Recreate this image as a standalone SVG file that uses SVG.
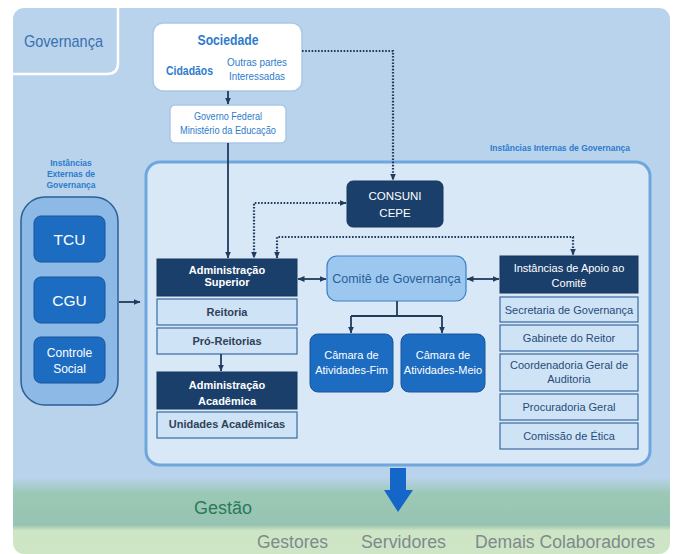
<svg xmlns="http://www.w3.org/2000/svg" width="673" height="554" viewBox="0 0 673 554">
<style>
text{font-family:"Liberation Sans",Arial,sans-serif}
.c{text-anchor:middle}
.navy{fill:#1b3f6b;stroke:#17375d;stroke-width:1}
.row{fill:#cfe3f7;stroke:#3a6aa0;stroke-width:1.2}
.lt{font-size:11px;font-weight:bold;fill:#2f4156}
.rt{font-size:11px;fill:#274b78}
.wb{fill:#ffffff;font-weight:bold;font-size:11px}
.w{fill:#ffffff}
.blue{fill:#1c6cc2;stroke:#1a5599;stroke-width:1}
.sol{fill:none;stroke:#1f3b5e;stroke-width:1.8}
.dot{fill:none;stroke:#1f3b5e;stroke-width:2.2;stroke-dasharray:1.6 1.6}
.lbl{font-weight:bold;font-size:8.5px;fill:#2d7ccc}
.bot{font-size:18px;fill:#7f8a8a}
</style>
<defs>
<linearGradient id="bg" gradientUnits="userSpaceOnUse" x1="0" y1="8" x2="0" y2="554">
<stop offset="0" stop-color="#b9d3ec"/>
<stop offset="0.86" stop-color="#b9d3ec"/>
<stop offset="0.888" stop-color="#9cc8b6"/>
<stop offset="0.947" stop-color="#97c4b2"/>
<stop offset="0.957" stop-color="#cde5c5"/>
<stop offset="1" stop-color="#cfe6c6"/>
</linearGradient>
<marker id="ar" viewBox="0 0 7 6" markerUnits="userSpaceOnUse" markerWidth="7" markerHeight="6" refX="6.5" refY="3" orient="auto-start-reverse">
<path d="M0,0 L7,3 L0,6 z" fill="#1f3b5e"/>
</marker>
</defs>

<g id="background">
<rect x="13" y="8" width="657" height="546" rx="11" fill="url(#bg)"/>
<path d="M13,74 H107 Q118,74 118,63 V8" fill="none" stroke="#ffffff" stroke-width="2.5"/>
<text x="24" y="47" font-size="17" fill="#3a6fb0" textLength="79" lengthAdjust="spacingAndGlyphs">Governança</text>
</g>

<g id="sociedade">
<rect x="153" y="23" width="149" height="68" rx="10" fill="#ffffff" stroke="#a9c8e6" stroke-width="1.5"/>
<text x="228" y="45" class="c" font-size="15" font-weight="bold" fill="#2d7ccc" textLength="61" lengthAdjust="spacingAndGlyphs">Sociedade</text>
<text x="166" y="75" font-size="13" font-weight="bold" fill="#2d7ccc" textLength="47" lengthAdjust="spacingAndGlyphs">Cidadãos</text>
<text x="257" y="66" class="c" font-size="10.5" fill="#2d7ccc" textLength="60" lengthAdjust="spacingAndGlyphs">Outras partes</text>
<text x="257" y="80" class="c" font-size="10.5" fill="#2d7ccc" textLength="56" lengthAdjust="spacingAndGlyphs">Interessadas</text>
</g>

<g id="governo">
<rect x="170" y="105" width="116" height="38" rx="5" fill="#ffffff" stroke="#a9c8e6" stroke-width="1.5"/>
<text x="228" y="120" class="c" font-size="10" fill="#2d7ccc" textLength="68" lengthAdjust="spacingAndGlyphs">Governo Federal</text>
<text x="228" y="134" class="c" font-size="10" fill="#2d7ccc" textLength="96" lengthAdjust="spacingAndGlyphs">Ministério da Educação</text>
</g>

<g id="painel-interno">
<text x="560" y="151" class="c lbl" textLength="140" lengthAdjust="spacingAndGlyphs">Instâncias Internas de Governança</text>
<rect x="146" y="162" width="504" height="303" rx="14" fill="#d9e8f6" stroke="#6fa7dd" stroke-width="3"/>
</g>

<g id="externas">
<text x="71" y="166" class="c lbl">Instâncias</text>
<text x="71" y="177" class="c lbl">Externas de</text>
<text x="71" y="188" class="c lbl">Governança</text>
<rect x="21" y="197" width="97" height="208" rx="24" fill="#8cb9e5" stroke="#2d5f96" stroke-width="1.5"/>
</g>
<g id="tcu">
<rect x="34" y="216" width="71" height="46" rx="7" class="blue"/>
<text x="69.5" y="245" class="c w" font-size="15.5">TCU</text>
</g>
<g id="cgu">
<rect x="34" y="277" width="71" height="46" rx="7" class="blue"/>
<text x="69.5" y="306" class="c w" font-size="15.5">CGU</text>
</g>
<g id="controle-social">
<rect x="34" y="337" width="71" height="46" rx="7" class="blue"/>
<text x="69.5" y="357" class="c w" font-size="12">Controle</text>
<text x="69.5" y="373" class="c w" font-size="12">Social</text>
</g>

<g id="consuni">
<rect x="347" y="181" width="96" height="46" rx="6" class="navy"/>
<text x="395" y="200" class="c w" font-size="11.5">CONSUNI</text>
<text x="395" y="217" class="c w" font-size="11.5">CEPE</text>
</g>

<g id="adm-superior">
<rect x="157" y="259" width="140" height="37" class="navy"/>
<text x="227" y="274" class="c wb">Administração</text>
<text x="227" y="286" class="c wb">Superior</text>
<rect x="157" y="299" width="140" height="26" class="row"/>
<text x="227" y="316" class="c lt">Reitoria</text>
<rect x="157" y="328" width="140" height="26" class="row"/>
<text x="227" y="345" class="c lt">Pró-Reitorias</text>
</g>

<g id="adm-academica">
<rect x="157" y="372" width="140" height="37" class="navy"/>
<text x="227" y="389" class="c wb">Administração</text>
<text x="227" y="405" class="c wb">Acadêmica</text>
<rect x="157" y="412" width="140" height="26" class="row"/>
<text x="227" y="428" class="c lt">Unidades Acadêmicas</text>
</g>

<g id="comite">
<rect x="327" y="256" width="139" height="45" rx="10" fill="#9cc8f0" stroke="#3a7fc4" stroke-width="1.2"/>
<text x="396.5" y="283" class="c" font-size="12.5" fill="#2b5e98">Comitê de Governança</text>
</g>

<g id="camara-fim">
<rect x="310" y="334" width="83" height="58" rx="8" class="blue"/>
<text x="351.5" y="359" class="c w" font-size="11">Câmara de</text>
<text x="351.5" y="374" class="c w" font-size="11">Atividades-Fim</text>
</g>
<g id="camara-meio">
<rect x="401" y="334" width="84" height="58" rx="8" class="blue"/>
<text x="443" y="359" class="c w" font-size="11">Câmara de</text>
<text x="443" y="374" class="c w" font-size="11">Atividades-Meio</text>
</g>

<g id="apoio">
<rect x="500" y="256" width="138" height="37" class="navy"/>
<text x="569" y="272" class="c w" font-size="11">Instâncias de Apoio ao</text>
<text x="569" y="287" class="c w" font-size="11">Comitê</text>
<rect x="500" y="297" width="138" height="25" class="row"/>
<text x="569" y="313.5" class="c rt">Secretaria de Governança</text>
<rect x="500" y="325" width="138" height="26" class="row"/>
<text x="569" y="342" class="c rt">Gabinete do Reitor</text>
<rect x="500" y="354" width="138" height="37" class="row"/>
<text x="569" y="369" class="c rt">Coordenadoria Geral de</text>
<text x="569" y="383" class="c rt">Auditoria</text>
<rect x="500" y="394" width="138" height="26" class="row"/>
<text x="569" y="411" class="c rt">Procuradoria Geral</text>
<rect x="500" y="423" width="138" height="26" class="row"/>
<text x="569" y="440" class="c rt">Comissão de Ética</text>
</g>

<g id="connectors">
<path class="sol" d="M228,91 V104" marker-end="url(#ar)"/>
<path class="sol" d="M228,143 V258" marker-end="url(#ar)"/>
<path class="dot" d="M302,51 H393 V180" marker-end="url(#ar)"/>
<path class="dot" d="M346,203 H254 V258" marker-start="url(#ar)" marker-end="url(#ar)"/>
<path class="dot" d="M277,258 V237 H573 V255" marker-start="url(#ar)" marker-end="url(#ar)"/>
<path class="sol" d="M119,302 H140" marker-end="url(#ar)"/>
<path class="sol" d="M298,279 H326" marker-start="url(#ar)" marker-end="url(#ar)"/>
<path class="sol" d="M467,279 H499" marker-start="url(#ar)" marker-end="url(#ar)"/>
<path class="sol" d="M397,301 V316"/>
<path class="sol" d="M351,316 H442"/>
<path class="sol" d="M351,316 V333" marker-end="url(#ar)"/>
<path class="sol" d="M442,316 V333" marker-end="url(#ar)"/>
<path class="sol" d="M221,354 V371" marker-end="url(#ar)"/>
<polygon points="390,468 406,468 406,490 413,490 398,512 384,490 390,490" fill="#1466c8"/>
</g>

<g id="gestao">
<text x="194" y="514" font-size="18" fill="#2a7a5a" textLength="58" lengthAdjust="spacingAndGlyphs">Gestão</text>
<text x="257" y="548" class="bot" textLength="71" lengthAdjust="spacingAndGlyphs">Gestores</text>
<text x="361" y="548" class="bot" textLength="85" lengthAdjust="spacingAndGlyphs">Servidores</text>
<text x="475" y="548" class="bot" textLength="180" lengthAdjust="spacingAndGlyphs">Demais Colaboradores</text>
</g>
</svg>
